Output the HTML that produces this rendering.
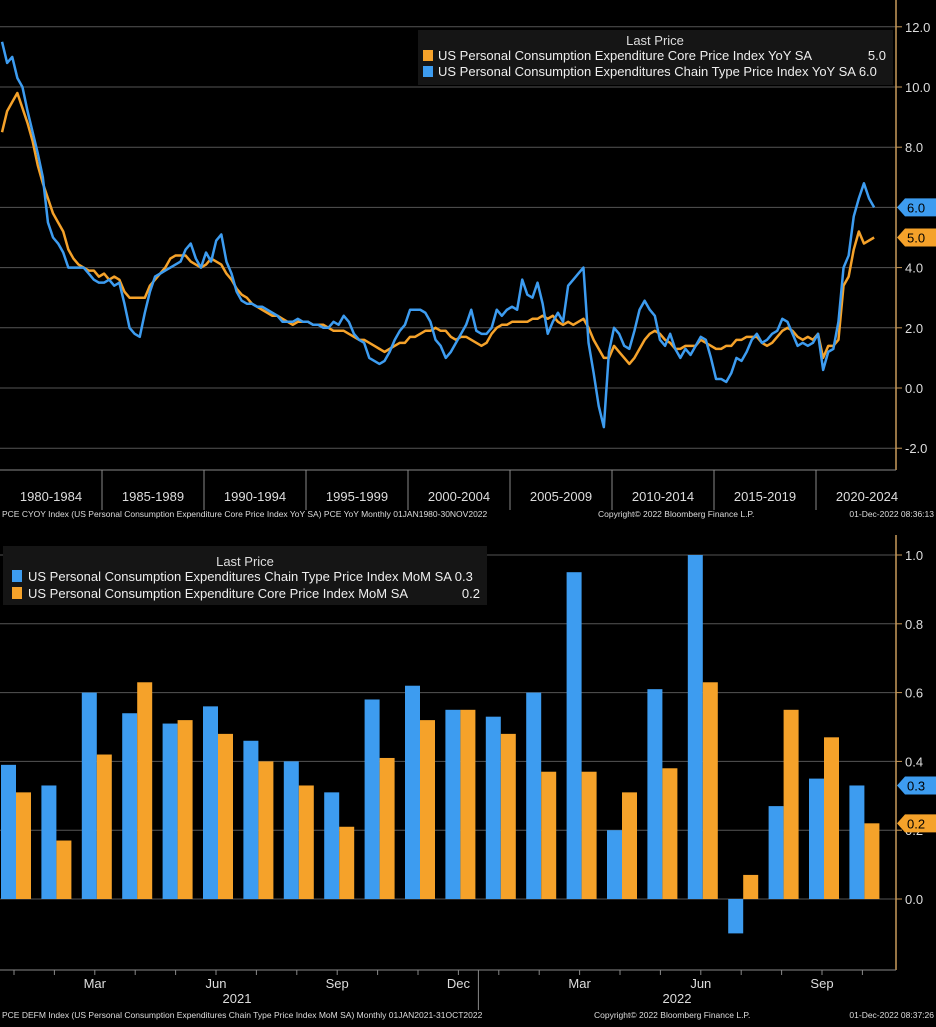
<!DOCTYPE html>
<html><head><meta charset="utf-8"><style>
body{margin:0;background:#000;width:936px;height:1022px;overflow:hidden;font-family:"Liberation Sans",sans-serif}
svg text{font-family:"Liberation Sans",sans-serif}
</style></head><body>
<svg id="c" width="936" height="1022" xmlns="http://www.w3.org/2000/svg"></svg>
<script>
// ===== Top chart data (quarterly, 1980Q1..2022Q4) =====
const headlineYoY=[11.5,10.8,11.0,10.3, 10.0,9.2,8.5,7.8, 7.0,5.5,5.0,4.8, 4.5,4.0,4.0,4.0, 4.0,3.8,3.6,3.5, 3.5,3.6,3.4,3.5, 2.8,2.0,1.8,1.7, 2.5,3.2,3.7,3.8, 3.9,4.0,4.1,4.2, 4.6,4.8,4.3,4.0, 4.5,4.2,4.9,5.1, 4.2,3.8,3.2,2.9, 2.8,2.8,2.7,2.7, 2.6,2.5,2.4,2.2, 2.2,2.2,2.3,2.2, 2.2,2.1,2.1,2.0, 2.0,2.2,2.1,2.4, 2.2,1.8,1.6,1.5, 1.0,0.9,0.8,0.9, 1.2,1.6,1.9,2.1, 2.6,2.6,2.6,2.5, 2.2,1.6,1.4,1.0, 1.2,1.5,1.8,2.1, 2.6,1.9,1.8,1.8, 2.0,2.6,2.4,2.6, 2.7,2.6,3.6,3.1, 3.0,3.5,2.8,1.8, 2.2,2.5,2.2,3.4, 3.6,3.8,4.0,1.5, 0.5,-0.6,-1.3,1.2, 2.0,1.8,1.4,1.3, 1.9,2.6,2.9,2.6, 2.4,1.6,1.4,1.8, 1.3,1.0,1.3,1.1, 1.4,1.7,1.6,1.0, 0.3,0.3,0.2,0.5, 1.0,0.9,1.2,1.6, 1.8,1.5,1.6,1.8, 1.9,2.3,2.2,1.8, 1.4,1.5,1.4,1.5, 1.8,0.6,1.2,1.3, 2.2,4.0,4.4,5.7, 6.3,6.8,6.3,6.0];
const coreYoY=[8.5,9.2,9.5,9.8, 9.3,8.8,8.2,7.4, 6.8,6.3,5.8,5.5, 5.2,4.6,4.3,4.1, 4.0,3.9,3.9,3.7, 3.8,3.6,3.7,3.6, 3.2,3.0,3.0,3.0, 3.0,3.4,3.6,3.8, 4.0,4.3,4.4,4.4, 4.4,4.2,4.1,4.0, 4.1,4.3,4.2,4.1, 3.8,3.6,3.3,3.1, 3.0,2.8,2.7,2.6, 2.5,2.4,2.4,2.3, 2.2,2.1,2.2,2.2, 2.2,2.1,2.1,2.1, 2.0,1.9,1.9,1.9, 1.8,1.7,1.6,1.6, 1.5,1.4,1.3,1.2, 1.3,1.4,1.5,1.5, 1.7,1.7,1.8,1.9, 1.9,2.0,1.9,1.9, 1.7,1.6,1.7,1.7, 1.6,1.5,1.4,1.5, 1.8,2.0,2.1,2.1, 2.2,2.2,2.2,2.2, 2.3,2.3,2.4,2.3, 2.4,2.2,2.1,2.2, 2.1,2.2,2.3,2.0, 1.6,1.3,1.0,1.0, 1.4,1.2,1.0,0.8, 1.0,1.3,1.6,1.8, 1.9,1.8,1.6,1.5, 1.3,1.3,1.4,1.4, 1.4,1.6,1.5,1.4, 1.3,1.3,1.4,1.4, 1.6,1.6,1.7,1.7, 1.7,1.5,1.4,1.5, 1.7,1.9,2.0,1.9, 1.7,1.6,1.7,1.6, 1.8,1.0,1.4,1.4, 1.6,3.4,3.7,4.6, 5.2,4.8,4.9,5.0];
const topTicks=[12,10,8,6,4,2,0,-2];
const periodLabels=["1980-1984","1985-1989","1990-1994","1995-1999","2000-2004","2005-2009","2010-2014","2015-2019","2020-2024"];
// ===== Bottom chart data (monthly Jan2021..Oct2022) =====
const momHeadline=[0.39,0.33,0.60,0.54,0.51,0.56,0.46,0.40,0.31,0.58,0.62,0.55,0.53,0.60,0.95,0.20,0.61,1.00,-0.10,0.27,0.35,0.33];
const momCore=[0.31,0.17,0.42,0.63,0.52,0.48,0.40,0.33,0.21,0.41,0.52,0.55,0.48,0.37,0.37,0.31,0.38,0.63,0.07,0.55,0.47,0.22];
const monthLabels=["","","Mar","","","Jun","","","Sep","","","Dec","","","Mar","","","Jun","","","Sep",""];
const botTicks=[1.0,0.8,0.6,0.4,0.2,0.0];

const NS="http://www.w3.org/2000/svg";
const svg=document.getElementById('c');
function mk(t,a,p){const e=document.createElementNS(NS,t);for(const k in a)e.setAttribute(k,a[k]);(p||svg).appendChild(e);return e;}
function txt(s,a){const e=mk('text',a);e.textContent=s;return e;}
const BLUE="#3d9cf0",ORANGE="#f5a22a",AX="#c89a5a",GRID="#555";

// Top axes
const ty=v=>388-v*30.1, tx=i=>(i/4+0.1)*20.4;
topTicks.forEach(v=>{
  const g=mk('line',{x1:0,x2:896,y1:ty(v),y2:ty(v),stroke:GRID,'stroke-width':1});
  
  const t=txt(v.toFixed(1),{x:905,y:ty(v)+5,fill:'#ddd','font-size':13});
  
  mk('line',{x1:896,x2:902,y1:ty(v),y2:ty(v),stroke:AX});
});
mk('line',{x1:896,x2:896,y1:0,y2:470,stroke:AX,'stroke-width':1.5});
mk('line',{x1:0,x2:896,y1:470,y2:470,stroke:'#888'});
periodLabels.forEach((s,i)=>{
  const x=i*102;
  if(i>0)mk('line',{x1:x,x2:x,y1:470,y2:510,stroke:'#888'});
  const t=txt(s,{x:x+51,y:501,fill:'#ddd','font-size':13,'text-anchor':'middle'});
  
});
function line(arr,col,name){
  const p=mk('polyline',{points:arr.map((v,i)=>tx(i)+','+ty(v)).join(' '),fill:'none',stroke:col,'stroke-width':2.5,'stroke-linejoin':'round'});
  
}
line(coreYoY,ORANGE,'core-yoy-line');
line(headlineYoY,BLUE,'headline-yoy-line');
function tag(y,val,col,name){
  mk('polygon',{points:`897,${y} 905,${y-9} 936,${y-9} 936,${y+9} 905,${y+9}`,fill:col});
  const t=txt(val,{x:907,y:y+5,fill:'#000','font-size':13});
  
}
tag(ty(headlineYoY[headlineYoY.length-1]),headlineYoY[headlineYoY.length-1].toFixed(1),BLUE,'top-headline-tag');
tag(ty(coreYoY[coreYoY.length-1]),coreYoY[coreYoY.length-1].toFixed(1),ORANGE,'top-core-tag');
// top legend
mk('rect',{x:418,y:30,width:475,height:55,fill:'#151515'});
txt('Last Price',{x:655,y:45,fill:'#ddd','font-size':13,'text-anchor':'middle'});
mk('rect',{x:423,y:50,width:10,height:11,fill:ORANGE});
txt('US Personal Consumption Expenditure Core Price Index YoY SA',{x:438,y:60,fill:'#eee','font-size':13});
txt('5.0',{x:886,y:60,fill:'#eee','font-size':13,'text-anchor':'end'});
mk('rect',{x:423,y:66,width:10,height:11,fill:BLUE});
txt('US Personal Consumption Expenditures Chain Type Price Index YoY SA 6.0',{x:438,y:76,fill:'#eee','font-size':13});
txt('PCE CYOY Index (US Personal Consumption Expenditure Core Price Index YoY SA) PCE YoY  Monthly 01JAN1980-30NOV2022',{x:2,y:517,fill:'#ddd','font-size':8.5});
txt('Copyright\u00A9 2022 Bloomberg Finance L.P.',{x:598,y:517,fill:'#ddd','font-size':8.5});
txt('01-Dec-2022 08:36:13',{x:934,y:517,fill:'#ddd','font-size':8.5,'text-anchor':'end'});

// Bottom chart
const by=v=>899-v*344, bx=i=>14+i*40.4;
botTicks.forEach(v=>{
  const g=mk('line',{x1:0,x2:896,y1:by(v),y2:by(v),stroke:GRID});
  
  mk('line',{x1:896,x2:902,y1:by(v),y2:by(v),stroke:AX});
  const t=txt(v.toFixed(1),{x:905,y:by(v)+5,fill:'#ddd','font-size':13});
  
});
mk('line',{x1:896,x2:896,y1:535,y2:970,stroke:AX,'stroke-width':1.5});
mk('line',{x1:0,x2:896,y1:970,y2:970,stroke:'#888'});
momHeadline.forEach((v,i)=>{
  const b=mk('rect',{x:bx(i)-13,y:Math.min(by(v),by(0)),width:15,height:Math.abs(by(v)-by(0)),fill:BLUE});
  
  const c=momCore[i];
  const b2=mk('rect',{x:bx(i)+2,y:Math.min(by(c),by(0)),width:15,height:Math.abs(by(c)-by(0)),fill:ORANGE});
  
  mk('line',{x1:bx(i),x2:bx(i),y1:970,y2:975,stroke:'#888'});
  if(monthLabels[i]){const t=txt(monthLabels[i],{x:bx(i),y:988,fill:'#ddd','font-size':13,'text-anchor':'middle'});
    }
});
mk('line',{x1:bx(11)+20,x2:bx(11)+20,y1:970,y2:1010,stroke:'#888'});
txt('2021',{x:237,y:1003,fill:'#ddd','font-size':13,'text-anchor':'middle'});
txt('2022',{x:677,y:1003,fill:'#ddd','font-size':13,'text-anchor':'middle'});
tag(by(0.33),'0.3',BLUE,'bottom-headline-tag');
tag(by(0.22),'0.2',ORANGE,'bottom-core-tag');
mk('rect',{x:3,y:546,width:484,height:59,fill:'#151515'});
txt('Last Price',{x:245,y:566,fill:'#ddd','font-size':13,'text-anchor':'middle'});
mk('rect',{x:12,y:570,width:10,height:12,fill:BLUE});
txt('US Personal Consumption Expenditures Chain Type Price Index MoM SA 0.3',{x:28,y:581,fill:'#eee','font-size':13});
mk('rect',{x:12,y:587,width:10,height:12,fill:ORANGE});
txt('US Personal Consumption Expenditure Core Price Index MoM SA',{x:28,y:598,fill:'#eee','font-size':13});
txt('0.2',{x:480,y:598,fill:'#eee','font-size':13,'text-anchor':'end'});
txt('PCE DEFM Index (US Personal Consumption Expenditures Chain Type Price Index MoM SA)  Monthly 01JAN2021-31OCT2022',{x:2,y:1018,fill:'#ddd','font-size':8.5});
txt('Copyright\u00A9 2022 Bloomberg Finance L.P.',{x:594,y:1018,fill:'#ddd','font-size':8.5});
txt('01-Dec-2022 08:37:26',{x:934,y:1018,fill:'#ddd','font-size':8.5,'text-anchor':'end'});
</script>
</body></html>
